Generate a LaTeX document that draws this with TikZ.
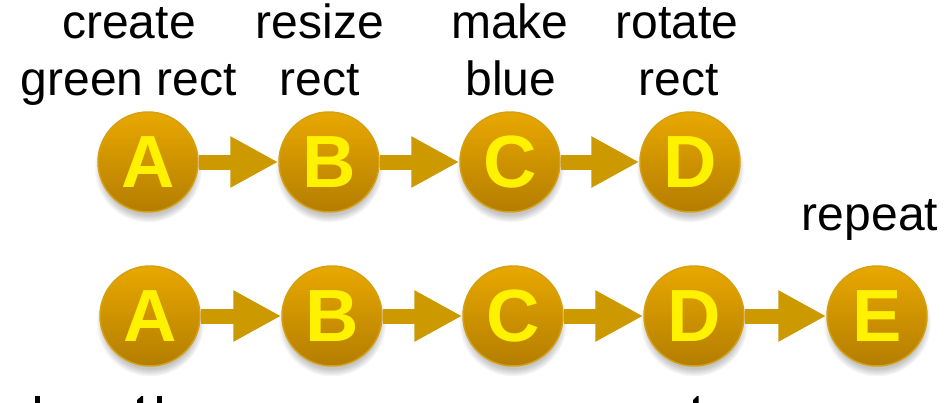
\documentclass[tikz,border=0pt]{standalone}
\usepackage{fontspec}
\setmainfont{Liberation Sans}
\usetikzlibrary{arrows.meta,shadows,fadings}
\definecolor{gold}{RGB}{204,153,0}
\definecolor{balltop}{RGB}{232,168,0}
\definecolor{ballbot}{RGB}{180,125,0}
\definecolor{ballrim}{RGB}{212,160,20}
\tikzset{
  ball/.style={circle, minimum size=100pt, inner sep=0pt, draw=ballrim, line width=1.5pt,
    top color=balltop, bottom color=ballbot, text=yellow,
    circular drop shadow={shadow xshift=0pt, shadow yshift=-6pt, shadow scale=1.08, opacity=0.45},
    font=\fontsize{74}{74}\selectfont\bfseries},
  lbl/.style={font=\fontsize{48}{57}\selectfont, text=black, anchor=base, inner sep=0pt},
  link/.style={draw=gold, line width=15pt, -{Triangle[length=48pt,width=48pt]}},
  frag/.style={fill=black, draw=none}
}
\begin{document}
\begin{tikzpicture}[x=1pt,y=-1pt]
\useasboundingbox (0,0) rectangle (946,402);
\clip (0,0) rectangle (946,402);
% labels
\node[lbl] (l1a) at (129,38) {create};
\node[lbl] (l1b) at (129,95) {green rect};
\node[lbl] (l2a) at (320,38) {resize};
\node[lbl] (l2b) at (320,95) {rect};
\node[lbl] (l3a) at (510,38) {make};
\node[lbl] (l3b) at (511,95) {blue};
\node[lbl] (l4a) at (677,38) {rotate};
\node[lbl] (l4b) at (679,95) {rect};
\node[lbl] (l5) at (870,230) {repeat};
% coordinates of balls
\coordinate (pA) at (148,162);
\coordinate (pB) at (329,162);
\coordinate (pC) at (510,162);
\coordinate (pD) at (690,162);
\coordinate (qA) at (150,316);
\coordinate (qB) at (332,316);
\coordinate (qC) at (513,316);
\coordinate (qD) at (694,316);
\coordinate (qE) at (877,316);
% balls row 1
\node[ball] (A1) at (pA) {A};
\node[ball] (B1) at (pB) {B};
\node[ball] (C1) at (pC) {C};
\node[ball] (D1) at (pD) {D};
% balls row 2
\node[ball] (A2) at (qA) {A};
\node[ball] (B2) at (qB) {B};
\node[ball] (C2) at (qC) {C};
\node[ball] (D2) at (qD) {D};
\node[ball] (E2) at (qE) {E};
% arrows
\draw[link] (A1.east) -- (B1.west);
\draw[link] (B1.east) -- (C1.west);
\draw[link] (C1.east) -- (D1.west);
\draw[link] (A2.east) -- (B2.west);
\draw[link] (B2.east) -- (C2.west);
\draw[link] (C2.east) -- (D2.west);
\draw[link] (D2.east) -- (E2.west);
% fragments of cut-off text at the bottom edge
\fill[frag] (35,396) rectangle (39.5,403);
\fill[frag] (137,403) -- (137,400) -- (141.5,396) -- (143,396) -- (143,403) -- cycle;
\fill[frag] (157,396) rectangle (162,403);
\fill[frag] (693,403) -- (693,400) -- (697,396) -- (698.5,396) -- (698.5,403) -- cycle;
\end{tikzpicture}
\end{document}
